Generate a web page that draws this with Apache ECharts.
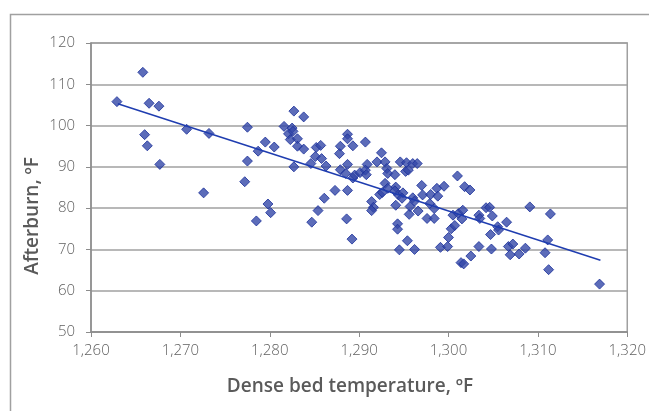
<!DOCTYPE html>
<html>
<head>
<meta charset="utf-8">
<script src="https://cdn.jsdelivr.net/npm/echarts@6/dist/echarts.min.js"></script>
<style>html,body{margin:0;padding:0;background:#fff}#c{width:649px;height:411px}</style>
</head>
<body>
<div id="c"></div>
<script>
// Dense bed temperature (°F)
var bedTemp = [1262.9,1265.8,1266.5,1267.6,1266.0,1266.3,1267.7,1270.7,1273.2,1272.6,
1277.5,1277.5,1277.2,1278.7,1279.5,1280.5,1279.8,1280.1,1278.5,1281.6,
1282.7,1283.8,1282.5,1282.1,1282.6,1282.3,1283.1,1283.1,1283.8,1282.7,
1284.6,1284.7,1285.2,1285.7,1285.1,1285.8,1286.3,1286.1,1285.4,1287.3,
1287.9,1287.8,1288.7,1288.7,1289.3,1288.7,1287.9,1288.5,1289.3,1289.5,
1288.7,1288.6,1289.2,1290.1,1290.7,1290.9,1290.7,1290.8,1291.4,1291.6,
1291.4,1292.0,1292.5,1292.9,1293.1,1293.2,1292.9,1293.2,1292.3,1292.6,
1294.0,1294.1,1294.0,1294.4,1294.1,1294.3,1294.3,1294.5,1294.6,1295.3,
1295.2,1295.5,1296.0,1296.5,1294.9,1294.8,1295.4,1295.6,1295.7,1296.0,
1296.2,1296.2,1296.6,1297.0,1297.1,1297.6,1297.9,1298.0,1298.4,1298.4,
1298.7,1298.8,1299.5,1299.1,1299.9,1300.0,1300.3,1300.7,1300.5,1301.0,
1301.1,1301.6,1301.5,1301.4,1301.7,1301.8,1302.4,1302.5,1303.4,1303.5,
1303.4,1304.2,1304.6,1304.9,1304.7,1304.8,1305.5,1305.6,1306.5,1306.7,
1307.2,1306.9,1307.9,1308.6,1309.1,1311.1,1310.8,1311.4,1311.2,1316.9];
// Afterburn (°F)
var afterburn = [105.8,112.9,105.4,104.7,97.8,95.1,90.6,99.1,98.1,83.7,
99.6,91.4,86.4,93.8,96.0,94.8,81.0,78.9,76.9,99.8,
103.5,102.1,99.4,98.0,98.6,96.6,96.8,95.0,94.3,90.0,
90.8,76.6,94.7,95.2,92.5,92.0,90.2,82.4,79.4,84.3,
95.0,93.2,97.9,96.8,95.1,90.6,89.3,88.4,87.3,88.0,
84.3,77.4,72.5,88.6,96.0,90.6,89.2,88.1,81.6,80.2,
79.4,91.2,93.4,91.2,89.6,88.4,86.0,84.8,83.3,83.8,
88.1,85.1,84.2,83.2,80.7,76.2,74.9,69.9,91.2,91.0,
88.9,89.2,90.8,90.8,83.7,82.4,72.1,78.5,80.4,82.5,
81.7,70.0,79.3,85.5,83.2,77.5,81.1,83.3,77.5,79.9,
84.8,82.9,85.3,70.5,70.7,72.9,75.0,75.8,78.3,87.8,
78.7,79.5,77.4,66.8,66.5,85.2,84.4,68.4,78.3,77.5,
70.7,80.1,80.2,78.1,73.6,70.1,75.5,74.7,76.6,70.7,
71.3,68.7,68.9,70.3,80.3,72.3,69.2,78.6,65.1,61.6];
// Linear trend line end points
var trendX = [1263, 1317];
var trendY = [105.3, 67.4];
var xTicks = [1260, 1270, 1280, 1290, 1300, 1310, 1320];
var yTicks = [50, 60, 70, 80, 90, 100, 110, 120];
var xTitle = 'Dense bed temperature, ºF';
var yTitle = 'Afterburn, ºF';

var pts = bedTemp.map(function (x, i) { return [x, afterburn[i]]; });
var trend = trendX.map(function (x, i) { return [x, trendY[i]]; });

var chart = echarts.init(document.getElementById('c'), null, {renderer: 'canvas'});
var labelFont = {color: '#5f5f5f', fontFamily: 'Open Sans', fontWeight: 300, fontSize: 15};
var titleStyle = {fill: '#5a5a5a', fontFamily: 'Open Sans', fontWeight: 600, fontSize: 19,
                  textAlign: 'center', textVerticalAlign: 'middle'};
chart.setOption({
  animation: false,
  grid: {left: 91, right: 19, top: 43, bottom: 79, show: true, borderColor: '#a0a0a0', borderWidth: 1.5},
  graphic: [{
    type: 'rect', left: 8, top: 12, silent: true, z: -1,
    shape: {x: 0, y: 0, width: 700, height: 500},
    style: {fill: null, stroke: '#a0a0a0', lineWidth: 1.5}
  }, {
    type: 'text', x: 350, y: 387, silent: true,
    style: Object.assign({text: xTitle}, titleStyle)
  }, {
    type: 'text', x: 33, y: 216, rotation: Math.PI / 2, silent: true,
    style: Object.assign({text: yTitle}, titleStyle)
  }],
  xAxis: {
    type: 'value', min: xTicks[0], max: xTicks[xTicks.length - 1], interval: 10,
    axisLine: {onZero: false, lineStyle: {color: '#8c8c8c', width: 1.5}},
    axisTick: {show: true, length: 5, inside: false, lineStyle: {color: '#8c8c8c'}},
    axisLabel: Object.assign({margin: 11, formatter: function (v) { return v.toLocaleString('en-US'); }}, labelFont),
    splitLine: {show: false}
  },
  yAxis: {
    type: 'value', min: yTicks[0], max: yTicks[yTicks.length - 1], interval: 10,
    axisLine: {show: true, lineStyle: {color: '#8c8c8c', width: 1.5}},
    axisTick: {show: true, length: 5, inside: false, lineStyle: {color: '#8c8c8c'}},
    axisLabel: Object.assign({margin: 16}, labelFont),
    splitLine: {show: true, lineStyle: {color: '#a0a0a0', width: 1.5}}
  },
  series: [{
    type: 'scatter', data: pts, symbol: 'diamond', symbolSize: 10,
    itemStyle: {color: '#3347A8', borderColor: '#1A2F9A', borderWidth: 1},
    z: 3
  }, {
    type: 'line', data: trend, symbol: 'none', showSymbol: false,
    lineStyle: {color: '#1F3DB0', width: 1.5}, z: 4
  }]
});
</script>
</body>
</html>
